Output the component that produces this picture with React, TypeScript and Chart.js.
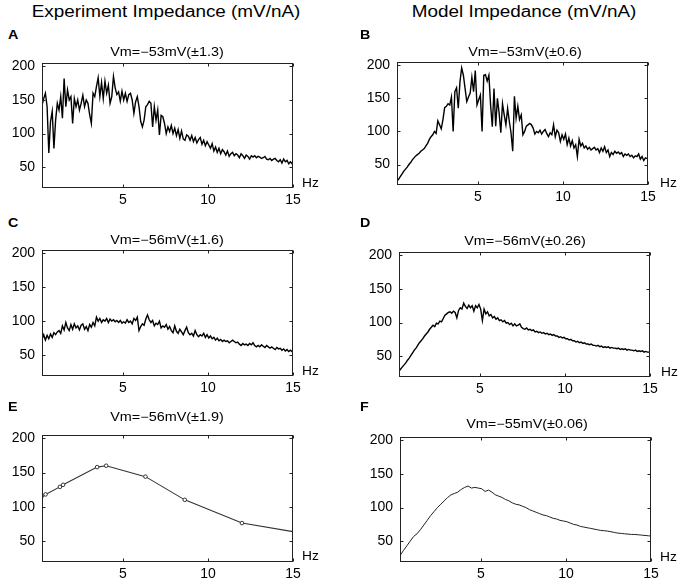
import { useEffect, useRef } from "react";
import { Chart, registerables } from "chart.js";

Chart.register(...registerables);

const FONT = '"Liberation Sans", Arial, Helvetica, sans-serif';

const X_TICKS = [5, 10, 15];
const Y_TICKS = [50, 100, 150, 200];
const X_MIN = 0.25;
const X_MAX = 15;
const Y_MIN = 19;
const Y_MAX = 205;

// spectra are sampled on a uniform frequency grid (Hz)
const SPECTRUM_START = 0.25;
const SPECTRUM_STEP = 0.1;
const SMOOTH_STEP = 0.2;

// A: experiment, Vm=-53mV
const EXP_53 = [
  142, 152, 160, 140, 71, 118, 133, 78,
  120, 145, 135, 155, 123, 182, 140, 165, 150, 155,
  115, 152, 140, 150, 135, 145, 157, 140, 150, 145,
  128, 115, 160, 155, 170, 183, 155, 176, 152, 178,
  160, 172, 145, 155, 185, 168, 158, 162, 148, 163,
  150, 160, 148, 158, 160, 150, 130, 147, 155, 140,
  118, 110, 120, 140, 143, 148, 145, 110, 140, 120,
  135, 98, 127, 125, 115, 100, 110, 103, 112, 100,
  108, 97, 106, 93, 104, 92, 90, 98, 96, 90,
  97, 88, 94, 86, 91, 94, 84, 90, 82, 88,
  83, 78, 85, 74, 80, 72, 78, 70, 76, 73,
  68, 74, 66, 70, 72, 67, 70, 68, 64, 70,
  67, 63, 68, 66, 62, 67, 65, 67, 64, 66,
  65, 63, 64, 66, 62, 61, 63, 60, 62, 63,
  60, 58, 61, 56, 62, 58, 60, 55, 58, 55,
  55,
];

// B: model, Vm=-53mV
const MODEL_53 = [
  25, 28, 32, 36, 40, 43, 46,
  50, 53, 57, 60, 63, 65, 67, 70, 72, 74,
  78, 82, 88, 92, 95, 100, 97, 116, 110, 104,
  118, 136, 138, 142, 140, 152, 100, 160, 166, 135,
  175, 196, 185, 165, 145, 152, 158, 182, 160, 192,
  140, 148, 155, 100, 185, 186, 176, 185, 140, 107,
  165, 108, 150, 128, 98, 142, 125, 110, 135, 115,
  98, 70, 153, 120, 138, 118, 125, 95, 100, 108,
  110, 112, 110, 105, 96, 100, 98, 102, 96, 100,
  103, 97, 92, 98, 95, 110, 92, 102, 98, 85,
  95, 88, 96, 80, 90, 78, 86, 75, 80, 62,
  88, 78, 82, 75, 78, 73, 76, 72, 74, 76,
  72, 74, 68, 75, 70, 77, 68, 72, 62, 68,
  65, 70, 67, 69, 66, 68, 62, 66, 64, 66,
  62, 64, 60, 63, 62, 66, 58, 62, 56, 60,
  59, 61,
];

// C: experiment, Vm=-56mV
const EXP_56 = [
  73, 80, 72, 79, 74, 81, 76, 83,
  80, 84, 86, 82, 93, 87, 98, 90, 86, 95,
  88, 96, 90, 93, 87, 94, 96, 88, 92, 86,
  95, 91, 98, 93, 106, 100, 104, 98, 102, 100,
  104, 98, 103, 100, 102, 99, 101, 98, 101, 97,
  99, 97, 102, 98, 100, 96, 104, 101, 106, 86,
  92, 96, 94, 103, 109, 102, 98, 101, 93, 97,
  95, 100, 90, 93, 91, 95, 88, 92, 86, 83,
  93, 85, 82, 88, 84, 80, 86, 91, 83, 80,
  82, 78, 86, 80, 77, 80, 78, 82, 76, 80,
  75, 78, 74, 76, 72, 75, 71, 73, 70, 72,
  70, 71, 68, 70, 72, 70, 68, 69, 66, 64,
  67, 65, 66, 64, 67, 65, 68, 64, 62, 64,
  62, 65, 63, 61, 64, 62, 60, 62, 60, 58,
  61, 59, 60, 57, 59, 56, 58, 55, 57, 55,
  54,
];

// D: model, Vm=-56mV
const MODEL_56 = [
  28, 31, 34, 37, 40, 44, 47,
  51, 55, 59, 62, 66, 70, 73, 76, 80, 83,
  86, 90, 93, 96, 94, 99, 98, 102, 101, 106,
  111, 113, 115, 116, 114, 117, 115, 107, 118, 122,
  120, 129, 124, 121, 126, 122, 125, 117, 125, 122,
  127, 120, 103, 120, 113, 116, 110, 112, 107, 109,
  105, 107, 103, 104, 101, 103, 99, 100, 97, 99,
  95, 98, 95, 96, 98, 93, 91, 90, 92, 89,
  90, 88, 89, 86, 87, 85, 86, 84, 85, 83,
  84, 82, 83, 81, 82, 80, 80, 78, 79, 77,
  78, 76, 76, 74, 75, 73, 73, 71, 72, 70,
  71, 69, 70, 68, 68, 67, 68, 66, 66, 65,
  66, 64, 65, 63, 64, 63, 64, 62, 63, 62,
  62, 61, 62, 60, 61, 60, 61, 59, 60, 59,
  59, 58, 59, 57, 58, 57, 58, 56, 57, 56,
  56, 55,
];

// E: experiment, Vm=-56mV, discrete stimulus frequencies
const ZAP_FREQ = [0.26, 0.46, 1.3, 1.49, 3.49, 4.02, 6.33, 8.64, 12.0, 15.0];
const ZAP_56 = [116, 118, 129, 132, 158, 160, 144, 110, 76, 63.5];

// F: model, Vm=-55mV (0.2 Hz grid)
const MODEL_55 = [
  28.5, 36, 43, 50, 57, 61, 67, 74, 81, 88,
  94, 100, 105, 110, 115, 119, 121, 123, 127, 130,
  132, 129, 130, 129, 128, 124, 126, 123, 119, 117,
  115, 112, 110, 107, 105, 104, 102, 100, 97, 95,
  93, 91, 89, 88, 86, 84, 83, 81, 80, 79,
  77, 75, 74, 72, 71, 70, 69, 68, 67, 66,
  65.5, 65, 64, 63, 62, 61.5, 61, 60.5, 60, 60,
  59.5, 59, 58.5, 58, 57.5,
];

const sampled = (values: number[], start: number, step: number) =>
  values.map((v, i) => ({ x: start + i * step, y: v }));

const PAD_L = 40;
const PAD_T = 20;
const PAD_R = 24;
const PAD_B = 24;
const TICK = 3;

type Panel = {
  letter: string;
  title: string;
  box: [number, number, number, number];
  titlePos: [number, number];
  letterPos: [number, number];
  hzPos: [number, number];
  points: { x: number; y: number }[];
  color: string;
  width: number;
  markers?: boolean;
};

const PANELS: Panel[] = [
  {
    letter: "A", title: "Vm=\u221253mV(\u00b11.3)",
    box: [42, 63, 293, 188], titlePos: [167, 52], letterPos: [8, 28], hzPos: [302, 183],
    points: sampled(EXP_53, SPECTRUM_START, SPECTRUM_STEP), color: "#000", width: 1.4,
  },
  {
    letter: "B", title: "Vm=\u221253mV(\u00b10.6)",
    box: [397, 62, 648, 185], titlePos: [525, 52], letterPos: [360, 28], hzPos: [660, 183],
    points: sampled(MODEL_53, SPECTRUM_START, SPECTRUM_STEP), color: "#000", width: 1.4,
  },
  {
    letter: "C", title: "Vm=\u221256mV(\u00b11.6)",
    box: [42, 250, 293, 376], titlePos: [167, 240], letterPos: [8, 216], hzPos: [302, 371],
    points: sampled(EXP_56, SPECTRUM_START, SPECTRUM_STEP), color: "#000", width: 1.4,
  },
  {
    letter: "D", title: "Vm=\u221256mV(\u00b10.26)",
    box: [399, 252, 650, 377], titlePos: [525, 241], letterPos: [360, 216], hzPos: [661, 372],
    points: sampled(MODEL_56, SPECTRUM_START, SPECTRUM_STEP), color: "#000", width: 1.4,
  },
  {
    letter: "E", title: "Vm=\u221256mV(\u00b11.9)",
    box: [42, 435, 293, 562], titlePos: [167, 417], letterPos: [8, 400], hzPos: [302, 556],
    points: ZAP_FREQ.map((f, i) => ({ x: f, y: ZAP_56[i] })), color: "#333", width: 1.1, markers: true,
  },
  {
    letter: "F", title: "Vm=\u221255mV(\u00b10.06)",
    box: [400, 437, 651, 562], titlePos: [527, 424], letterPos: [360, 400], hzPos: [660, 557],
    points: sampled(MODEL_55, SPECTRUM_START, SMOOTH_STEP), color: "#222", width: 1,
  },
];

const boxPlugin = {
  id: "matlabBox",
  afterDatasetsDraw(chart: Chart) {
    const { ctx, chartArea: a, scales } = chart;
    const l = Math.round(a.left) + 0.5;
    const t = Math.round(a.top) + 0.5;
    const r = Math.round(a.right) - 0.5;
    const b = Math.round(a.bottom) - 0.5;
    ctx.save();
    ctx.strokeStyle = "#222";
    ctx.lineWidth = 1;
    ctx.strokeRect(l, t, r - l, b - t);
    ctx.beginPath();
    for (const tk of scales.x.ticks) {
      const px = Math.round(scales.x.getPixelForValue(tk.value)) + 0.5;
      ctx.moveTo(px, b);
      ctx.lineTo(px, b - TICK);
      ctx.moveTo(px, t);
      ctx.lineTo(px, t + TICK);
    }
    for (const tk of scales.y.ticks) {
      const py = Math.round(scales.y.getPixelForValue(tk.value)) + 0.5;
      ctx.moveTo(l, py);
      ctx.lineTo(l + TICK, py);
      ctx.moveTo(r, py);
      ctx.lineTo(r - TICK, py);
    }
    ctx.stroke();
    ctx.restore();
  },
};

function PanelChart({ panel }: { panel: Panel }) {
  const canvasRef = useRef<HTMLCanvasElement>(null);
  const [L, T, R, B] = panel.box;
  const w = R - L + PAD_L + PAD_R;
  const h = B - T + PAD_T + PAD_B;

  useEffect(() => {
    const ctx = canvasRef.current?.getContext("2d");
    if (!ctx) return;
    const last = panel.points.length - 1;
    const tickFont = { family: FONT, size: 14 };

    const chart = new Chart(ctx, {
      type: "line",
      data: {
        datasets: [
          {
            data: panel.points,
            borderColor: panel.color,
            borderWidth: panel.width,
            tension: 0,
            fill: false,
            pointRadius: panel.markers ? (c: any) => (c.dataIndex === last ? 0 : 1.8) : 0,
            pointBorderColor: panel.color,
            pointBackgroundColor: "#fff",
            pointBorderWidth: 1,
          },
        ],
      },
      options: {
        responsive: false,
        animation: false,
        events: [],
        layout: { padding: { top: PAD_T, right: PAD_R, left: 0, bottom: 0 } },
        plugins: {
          legend: { display: false },
          tooltip: { enabled: false },
          title: { display: false },
        },
        scales: {
          x: {
            type: "linear",
            min: X_MIN,
            max: X_MAX,
            grid: { display: false, drawTicks: false },
            border: { display: false },
            afterBuildTicks: (s: any) => {
              s.ticks = X_TICKS.map((v) => ({ value: v }));
            },
            afterFit: (s: any) => {
              s.height = PAD_B;
            },
            ticks: { font: tickFont, color: "#000", padding: 4, maxRotation: 0, autoSkip: false },
          },
          y: {
            type: "linear",
            min: Y_MIN,
            max: Y_MAX,
            grid: { display: false, drawTicks: false },
            border: { display: false },
            afterBuildTicks: (s: any) => {
              s.ticks = Y_TICKS.map((v) => ({ value: v }));
            },
            afterFit: (s: any) => {
              s.width = PAD_L;
            },
            ticks: { font: tickFont, color: "#000", padding: 7, autoSkip: false },
          },
        },
      },
      plugins: [boxPlugin],
    });

    return () => chart.destroy();
  }, [panel]);

  return (
    <canvas
      ref={canvasRef}
      width={w}
      height={h}
      style={{ position: "absolute", left: L - PAD_L, top: T - PAD_T, width: w, height: h }}
    />
  );
}

const textBase = { position: "absolute" as const, fontFamily: FONT, color: "#000", lineHeight: 1, whiteSpace: "nowrap" as const };

export default function App() {
  return (
    <div style={{ position: "absolute", left: 0, top: 0, width: 680, height: 584, background: "#fff", overflow: "hidden" }}>
      <div style={{ ...textBase, left: 166, top: 12, fontSize: 16, transform: "translate(-50%, -50%) scaleX(1.18)" }}>
        Experiment Impedance (mV/nA)
      </div>
      <div style={{ ...textBase, left: 524, top: 12, fontSize: 16, transform: "translate(-50%, -50%) scaleX(1.18)" }}>
        Model Impedance (mV/nA)
      </div>
      {PANELS.map((p) => (
        <div key={p.letter}>
          <PanelChart panel={p} />
          <div style={{ ...textBase, left: p.letterPos[0], top: p.letterPos[1], fontSize: 13, fontWeight: "bold", transformOrigin: "left", transform: "scaleX(1.1)" }}>
            {p.letter}
          </div>
          <div style={{ ...textBase, left: p.titlePos[0], top: p.titlePos[1], fontSize: 12, transform: "translate(-50%, -50%) scaleX(1.2)" }}>
            {p.title}
          </div>
          <div style={{ ...textBase, left: p.hzPos[0], top: p.hzPos[1], fontSize: 12.5, transformOrigin: "left", transform: "translateY(-50%) scaleX(1.1)" }}>
            Hz
          </div>
        </div>
      ))}
    </div>
  );
}
